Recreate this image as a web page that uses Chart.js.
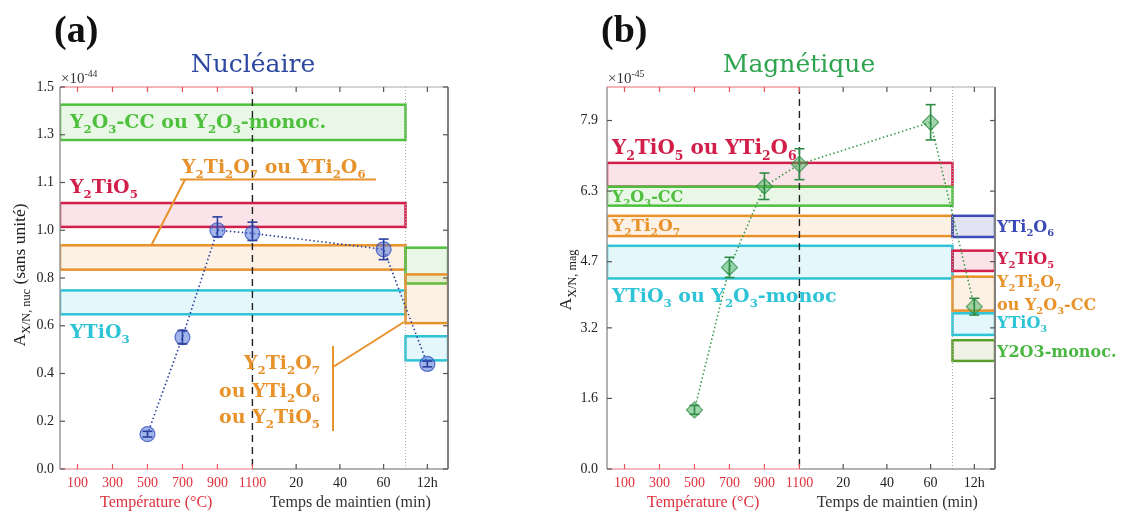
<!DOCTYPE html>
<html>
<head>
<meta charset="utf-8">
<script src="https://cdn.jsdelivr.net/npm/chart.js@4.4.1/dist/chart.umd.min.js"></script>
<style>
html, body { margin: 0; padding: 0; background: #fff; }
#wrap { position: relative; width: 1132px; height: 513px; overflow: hidden; }
#boxA { position: absolute; left: 0; top: 0; width: 540px; height: 513px; }
#boxB { position: absolute; left: 540px; top: 0; width: 592px; height: 513px; }
</style>
</head>
<body>
<div id="wrap">
  <div id="boxA"><canvas id="chartA"></canvas></div>
  <div id="boxB"><canvas id="chartB"></canvas></div>
</div>
<script>
// ---- données ----
// axe x : température (°C) puis temps de maintien (min)
const xTickStage = ['100°C', '300°C', '500°C', '700°C', '900°C', '1100°C', '20min', '40min', '60min', '12h'];
const pointStage = ['500°C', '700°C', '900°C', '1100°C', '60min', '12h'];

// (a) nucléaire, x 1e-44
const nucTicks = [0.0, 0.2, 0.4, 0.6, 0.8, 1.0, 1.1, 1.3, 1.5];
const nucValues = [0.146, 0.552, 1.0, 0.987, 0.92, 0.44];
const nucErrors = [0.012, 0.028, 0.028, 0.03, 0.043, 0.012];
const nucBoxPhase = ['Y2O3', 'Y2TiO5', 'Y2Ti2O7', 'YTiO3', 'Y2O3', 'Y2Ti2O7', 'YTiO3'];
const nucBoxZone = ['recuit', 'recuit', 'recuit', 'recuit', '12h', '12h', '12h'];
const nucBoxLow = [1.278, 1.007, 0.835, 0.648, 0.777, 0.611, 0.455];
const nucBoxHigh = [1.426, 1.057, 0.937, 0.748, 0.927, 0.815, 0.556];

// (b) magnétique, x 1e-45
const magTicks = [0.0, 1.6, 3.2, 4.7, 6.3, 7.9];
const magValues = [1.34, 4.57, 6.41, 6.91, 7.86, 3.68];
const magErrors = [0.1, 0.23, 0.3, 0.35, 0.4, 0.19];
const magBoxPhase = ['Y2TiO5', 'Y2O3', 'Y2Ti2O7', 'YTiO3', 'YTi2O6', 'Y2TiO5', 'Y2Ti2O7', 'YTiO3', 'Y2O3m'];
const magBoxZone = ['recuit', 'recuit', 'recuit', 'recuit', '12h', '12h', '12h', '12h', '12h'];
const magBoxLow = [6.40, 5.97, 5.28, 4.32, 5.26, 4.49, 3.59, 3.04, 2.45];
const magBoxHigh = [6.94, 6.40, 5.74, 5.06, 5.74, 4.95, 4.36, 3.53, 2.92];

// ---- couleurs ----
const phaseColor = { Y2O3: '#4fc03d', Y2TiO5: '#d21f4a', Y2Ti2O7: '#e8922b', YTiO3: '#2ec4d6', YTi2O6: '#3c4ab8', Y2O3m: '#5a9e2a' };
const phaseFill = {
  Y2O3: 'rgba(79,192,61,0.13)', Y2TiO5: 'rgba(210,31,74,0.12)', Y2Ti2O7: 'rgba(232,146,43,0.13)',
  YTiO3: 'rgba(46,196,214,0.13)', YTi2O6: 'rgba(60,74,184,0.15)', Y2O3m: 'rgba(150,165,80,0.15)'
};
const RED = '#e0303c';
const SERIF = "'DejaVu Serif', serif";
const TICKFONT = "'Liberation Serif', serif";

// échelle x composite : 1 min de maintien = 12.5 unités après 1100 °C
const minuteUnits = 12.5;
const breakStage = '70min';
const xMaxUnits = 2218;

function xOf(stage) {
  if (stage === '12h') return 1100 + 80 * minuteUnits;
  if (stage.endsWith('min')) return 1100 + parseFloat(stage) * minuteUnits;
  return parseFloat(stage);
}

// axe y non linéaire de (a) : graduations régulièrement espacées
function nucToAxis(v) {
  for (let i = 1; i < nucTicks.length; i++) {
    if (v <= nucTicks[i] || i === nucTicks.length - 1) {
      const a = nucTicks[i - 1], b = nucTicks[i];
      return i - 1 + (v - a) / (b - a);
    }
  }
}

// texte avec indices _{..} et exposants ^{..}
function richParts(str) {
  const parts = [];
  const re = /_\{([^}]*)\}|\^\{([^}]*)\}|([^_^]+)/g;
  let m;
  while ((m = re.exec(str))) {
    if (m[1] !== undefined) parts.push({ t: m[1], k: 'sub' });
    else if (m[2] !== undefined) parts.push({ t: m[2], k: 'sup' });
    else parts.push({ t: m[3], k: '' });
  }
  return parts;
}

function drawRich(ctx, str, x, y, size, weight, family, color, align, ratio) {
  const r = ratio || 0.62;
  const parts = richParts(str);
  const fnt = s => `${weight} ${s}px ${family}`;
  let w = 0;
  parts.forEach(p => { ctx.font = fnt(p.k ? size * r : size); p.w = ctx.measureText(p.t).width; w += p.w; });
  let cx = align === 'right' ? x - w : align === 'center' ? x - w / 2 : x;
  ctx.fillStyle = color;
  ctx.textAlign = 'left';
  ctx.textBaseline = 'alphabetic';
  parts.forEach(p => {
    ctx.font = fnt(p.k ? size * r : size);
    const dy = p.k === 'sub' ? size * 0.28 : p.k === 'sup' ? -size * 0.42 : 0;
    ctx.fillText(p.t, cx, y + dy);
    cx += p.w;
  });
}

function line(ctx, x1, y1, x2, y2, color, width, dash) {
  ctx.save();
  ctx.strokeStyle = color;
  ctx.lineWidth = width;
  ctx.setLineDash(dash || []);
  ctx.beginPath();
  ctx.moveTo(x1, y1);
  ctx.lineTo(x2, y2);
  ctx.stroke();
  ctx.restore();
}

function panelPlugin(P) {
  return {
    id: 'panel',
    beforeDatasetsDraw(chart) {
      const { ctx, chartArea: a, scales: { x, y } } = chart;
      const xb = x.getPixelForValue(xOf(breakStage));
      ctx.save();
      ctx.beginPath();
      ctx.rect(a.left, a.top, a.right - a.left, a.bottom - a.top);
      ctx.clip();
      P.boxPhase.forEach((ph, i) => {
        const x0 = P.boxZone[i] === 'recuit' ? x.getPixelForValue(0) : xb;
        const x1 = P.boxZone[i] === 'recuit' ? xb : x.getPixelForValue(xMaxUnits);
        const y0 = y.getPixelForValue(P.toY(P.boxHigh[i]));
        const y1 = y.getPixelForValue(P.toY(P.boxLow[i]));
        ctx.fillStyle = phaseFill[ph];
        ctx.fillRect(x0, y0, x1 - x0, y1 - y0);
        ctx.strokeStyle = phaseColor[ph];
        ctx.lineWidth = 2.5;
        ctx.strokeRect(x0, y0, x1 - x0, y1 - y0);
      });
      ctx.restore();
      const x1100 = x.getPixelForValue(1100);
      line(ctx, x1100, a.top, x1100, a.bottom, '#222', 1.4, [7, 5]);
      line(ctx, xb, a.top, xb, a.bottom, '#aaa', 1, [1, 2]);
    },
    afterDatasetsDraw(chart) {
      const { ctx, scales: { x, y } } = chart;
      P.values.forEach((v, i) => {
        const px = x.getPixelForValue(xOf(pointStage[i]));
        const t = y.getPixelForValue(P.toY(v + P.errors[i]));
        const b = y.getPixelForValue(P.toY(v - P.errors[i]));
        line(ctx, px, t, px, b, P.errColor, 1.6);
        line(ctx, px - 5, t, px + 5, t, P.errColor, 1.6);
        line(ctx, px - 5, b, px + 5, b, P.errColor, 1.6);
      });
    },
    afterDraw(chart) {
      const { ctx, chartArea: a, scales: { x, y } } = chart;
      const x1100 = x.getPixelForValue(1100);
      // cadre
      line(ctx, a.left, a.top, a.left, a.bottom, '#999', 1.5);
      line(ctx, a.right, a.top, a.right, a.bottom, '#808080', 2);
      line(ctx, a.left, a.top, x1100, a.top, '#ec6a72', 1.2);
      line(ctx, x1100, a.top, a.right, a.top, '#aaa', 1.2);
      line(ctx, a.left, a.bottom, x1100, a.bottom, '#f2a3aa', 1.6);
      line(ctx, x1100, a.bottom, a.right, a.bottom, '#999', 1.6);
      // graduations vers l'intérieur
      xTickStage.forEach(s => {
        const px = x.getPixelForValue(xOf(s));
        const c = s.endsWith('°C') ? '#e8505a' : '#555';
        line(ctx, px, a.bottom, px, a.bottom - 5, c, 1.2);
        line(ctx, px, a.top, px, a.top + 5, c, 1.2);
      });
      y.ticks.forEach(t => {
        const py = y.getPixelForValue(t.value);
        line(ctx, a.left, py, a.left + 5, py, '#555', 1.2);
        line(ctx, a.right, py, a.right - 5, py, '#555', 1.2);
      });
      // titres d'axes
      ctx.font = `16px ${TICKFONT}`;
      ctx.textAlign = 'center';
      ctx.textBaseline = 'alphabetic';
      ctx.fillStyle = RED;
      ctx.fillText('Température (°C)', (a.left + x1100) / 2, 507);
      ctx.fillStyle = '#333';
      ctx.fillText('Temps de maintien (min)', (x1100 + a.right) / 2, 507);
      ctx.save();
      ctx.translate(P.yTitle.x, P.yTitle.y);
      ctx.rotate(-Math.PI / 2);
      drawRich(ctx, P.yTitle.s, 0, 0, 17.5, 'normal', TICKFONT, '#222', 'center', 0.7);
      ctx.restore();
      drawRich(ctx, P.mult, a.left + 1, 83, 15, 'normal', TICKFONT, '#333', 'left', 0.65);
      // titres
      drawRich(ctx, P.letter, P.letterX, 42, 38, 'bold', TICKFONT, '#111', 'left');
      drawRich(ctx, P.title, P.titleX, 72, 25, 'normal', SERIF, P.titleColor, 'center');
      // annotations
      P.lines.forEach(l => line(ctx, l[0], l[1], l[2], l[3], phaseColor.Y2Ti2O7, 2));
      P.texts.forEach(t => drawRich(ctx, t.s, t.x, t.y, t.size, 'bold', SERIF, t.color, t.align || 'left'));
    }
  };
}

function buildChart(id, P) {
  const pts = P.values.map((v, i) => ({ x: xOf(pointStage[i]), y: P.toY(v) }));
  return new Chart(document.getElementById(id), {
    type: 'scatter',
    data: {
      datasets: [{
        data: pts,
        showLine: true,
        borderColor: P.lineColor,
        borderWidth: 1.6,
        borderDash: [1.5, 2.5],
        pointStyle: P.pointStyle,
        pointRadius: P.pointRadius,
        pointBackgroundColor: P.pointFill,
        pointBorderColor: P.pointBorder,
        pointBorderWidth: 1.2
      }]
    },
    options: {
      responsive: true,
      maintainAspectRatio: false,
      animation: false,
      layout: { padding: P.padding },
      plugins: { legend: { display: false }, tooltip: { enabled: false } },
      scales: {
        x: {
          type: 'linear',
          min: 0,
          max: xMaxUnits,
          grid: { display: false, drawTicks: false },
          border: { display: false },
          afterBuildTicks: s => { s.ticks = xTickStage.map(st => ({ value: xOf(st) })); },
          afterFit: s => { s.height = 44; },
          ticks: {
            padding: 6,
            maxRotation: 0,
            autoSkip: false,
            font: { family: TICKFONT, size: 14 },
            color: c => (xTickStage[c.index] || '').endsWith('°C') ? RED : '#222',
            callback: (v, i) => xTickStage[i].replace(/°C|min/, '')
          }
        },
        y: {
          type: 'linear',
          min: 0,
          max: P.yMax,
          grid: { display: false, drawTicks: false },
          border: { display: false },
          afterBuildTicks: s => { s.ticks = P.yTicks.map(v => ({ value: v })); },
          afterFit: s => { s.width = P.yWidth; },
          ticks: {
            padding: P.yPad,
            autoSkip: false,
            font: { family: TICKFONT, size: 14 },
            color: '#222',
            callback: (v, i) => P.yLabels[i]
          }
        }
      }
    },
    plugins: [panelPlugin(P)]
  });
}

// (a) Nucléaire
buildChart('chartA', {
  values: nucValues, errors: nucErrors,
  boxPhase: nucBoxPhase, boxZone: nucBoxZone, boxLow: nucBoxLow, boxHigh: nucBoxHigh,
  toY: nucToAxis,
  yMax: nucTicks.length - 1,
  yTicks: nucTicks.map((v, i) => i),
  yLabels: nucTicks.map(v => v.toFixed(1)),
  yWidth: 60, yPad: 6,
  padding: { left: 0, top: 87, right: 92, bottom: 0 },
  pointStyle: 'circle', pointRadius: 7.5,
  pointFill: 'rgba(70,108,215,0.5)', pointBorder: 'rgba(45,75,185,0.75)',
  lineColor: '#2b3f9e', errColor: '#2a3fa0',
  letter: '(a)', letterX: 54,
  title: 'Nucléaire', titleX: 253, titleColor: '#2c48a0',
  mult: '×10^{-44}',
  yTitle: { s: 'A_{X/N, nuc} (sans unité)', x: 25, y: 275 },
  lines: [[180, 179.5, 376, 179.5], [185, 179.5, 151.5, 245], [333, 346, 333, 431], [333, 367, 404, 322]],
  texts: [
    { s: 'Y_{2}O_{3}-CC ou Y_{2}O_{3}-monoc.', x: 70, y: 128, size: 19, color: phaseColor.Y2O3 },
    { s: 'Y_{2}Ti_{2}O_{7} ou YTi_{2}O_{6}', x: 182, y: 173, size: 19, color: phaseColor.Y2Ti2O7 },
    { s: 'Y_{2}TiO_{5}', x: 70, y: 193, size: 19, color: phaseColor.Y2TiO5 },
    { s: 'YTiO_{3}', x: 70, y: 338, size: 19, color: phaseColor.YTiO3 },
    { s: 'Y_{2}Ti_{2}O_{7}', x: 320, y: 369, size: 19, color: phaseColor.Y2Ti2O7, align: 'right' },
    { s: 'ou YTi_{2}O_{6}', x: 320, y: 397, size: 19, color: phaseColor.Y2Ti2O7, align: 'right' },
    { s: 'ou Y_{2}TiO_{5}', x: 320, y: 423, size: 19, color: phaseColor.Y2Ti2O7, align: 'right' }
  ]
});

// (b) Magnétique
buildChart('chartB', {
  values: magValues, errors: magErrors,
  boxPhase: magBoxPhase, boxZone: magBoxZone, boxLow: magBoxLow, boxHigh: magBoxHigh,
  toY: v => v,
  yMax: 8.66,
  yTicks: magTicks,
  yLabels: magTicks.map(v => v.toFixed(1)),
  yWidth: 67, yPad: 9,
  padding: { left: 0, top: 87, right: 137, bottom: 0 },
  pointStyle: 'rectRot', pointRadius: 8,
  pointFill: 'rgba(70,175,90,0.5)', pointBorder: 'rgba(45,140,70,0.75)',
  lineColor: '#3a9a4a', errColor: '#2e8b45',
  letter: '(b)', letterX: 61,
  title: 'Magnétique', titleX: 259, titleColor: '#2fa44f',
  mult: '×10^{-45}',
  yTitle: { s: 'A_{X/N, mag}', x: 31, y: 280 },
  lines: [],
  texts: [
    { s: 'Y_{2}TiO_{5} ou YTi_{2}O_{6}', x: 72, y: 154, size: 20, color: phaseColor.Y2TiO5 },
    { s: 'Y_{2}O_{3}-CC', x: 72, y: 202, size: 16, color: phaseColor.Y2O3 },
    { s: 'Y_{2}Ti_{2}O_{7}', x: 72, y: 231, size: 17, color: phaseColor.Y2Ti2O7 },
    { s: 'YTiO_{3} ou Y_{2}O_{3}-monoc', x: 72, y: 302, size: 19, color: phaseColor.YTiO3 },
    { s: 'YTi_{2}O_{6}', x: 457, y: 232, size: 16, color: phaseColor.YTi2O6 },
    { s: 'Y_{2}TiO_{5}', x: 457, y: 264, size: 16, color: phaseColor.Y2TiO5 },
    { s: 'Y_{2}Ti_{2}O_{7}', x: 457, y: 287, size: 16, color: phaseColor.Y2Ti2O7 },
    { s: 'ou Y_{2}O_{3}-CC', x: 457, y: 310, size: 16, color: phaseColor.Y2Ti2O7 },
    { s: 'YTiO_{3}', x: 457, y: 328, size: 16, color: phaseColor.YTiO3 },
    { s: 'Y2O3-monoc.', x: 457, y: 357, size: 16, color: '#4cb843' }
  ]
});
</script>
</body>
</html>
